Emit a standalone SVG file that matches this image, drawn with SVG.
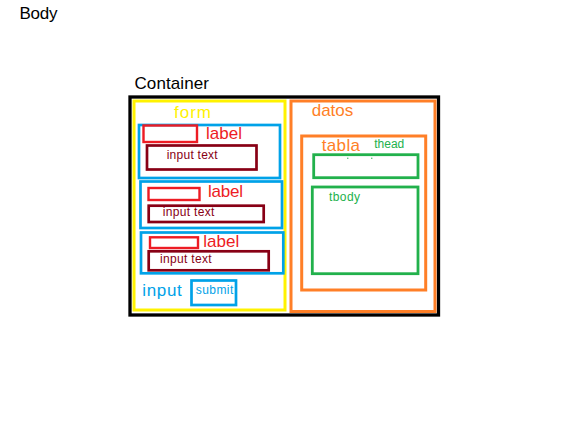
<svg xmlns="http://www.w3.org/2000/svg" width="579" height="426" viewBox="0 0 579 426">
<style>
text { font-family: "Liberation Sans", Arial, sans-serif; }
.big { font-size: 17px; }
.sm { font-size: 12px; }
rect { fill: none; }
.blk { stroke: #000; stroke-width: 3.3; }
.yel { stroke: #FFF200; stroke-width: 3; }
.org { stroke: #FF7F27; stroke-width: 3; }
.blu { stroke: #00A2E8; stroke-width: 2.7; }
.red { stroke: #ED1C24; stroke-width: 2.4; }
.drd { stroke: #880015; stroke-width: 2.7; }
.grn { stroke: #22B14C; stroke-width: 2.8; }
</style>
<rect x="0" y="0" width="579" height="426" fill="#fff" style="fill:#fff"/>
<g id="body">
  <text x="19.5" y="19" class="big" textLength="38" fill="#000">Body</text>
</g>
<g id="container">
  <text x="134.5" y="89" class="big" textLength="74.5" fill="#000">Container</text>
  <rect class="blk" x="130" y="97" width="308.5" height="218"/>
</g>
<g id="form">
  <rect class="yel" x="134" y="101" width="151" height="209"/>
  <text x="174" y="118" class="big" textLength="37" fill="#FFF200">form</text>
</g>
<g id="group1">
  <rect class="blu" x="139" y="125" width="141" height="53"/>
  <rect class="red" x="143.5" y="125.5" width="53.5" height="16.5"/>
  <text x="206" y="139.3" class="big" textLength="36" fill="#ED1C24">label</text>
  <rect class="drd" x="147" y="145.5" width="109.5" height="24"/>
  <text x="166.7" y="159.3" class="sm" textLength="51" fill="#880015">input text</text>
</g>
<g id="group2">
  <rect class="blu" x="140.5" y="181.5" width="141.5" height="46.5"/>
  <rect class="red" x="148.5" y="188" width="51" height="12"/>
  <text x="208" y="196.7" class="big" textLength="35" fill="#ED1C24">label</text>
  <rect class="drd" x="148.7" y="205.7" width="115" height="16.3"/>
  <text x="162.7" y="216" class="sm" textLength="51.6" fill="#880015">input text</text>
</g>
<g id="group3">
  <rect class="blu" x="141" y="232.5" width="142.3" height="40.8"/>
  <rect class="red" x="150" y="237.3" width="48" height="10.7"/>
  <text x="203.3" y="246.7" class="big" textLength="36" fill="#ED1C24">label</text>
  <rect class="drd" x="148.7" y="251.3" width="120" height="19"/>
  <text x="160" y="262.7" class="sm" textLength="51.7" fill="#880015">input text</text>
</g>
<g id="submit">
  <text x="142.3" y="296" class="big" textLength="39.4" fill="#00A2E8">input</text>
  <rect class="blu" x="191.5" y="280.5" width="44.5" height="24.5"/>
  <text x="195.7" y="294.3" class="sm" textLength="37.6" fill="#00A2E8">submit</text>
</g>
<g id="datos">
  <rect class="org" x="291" y="101" width="144" height="210.5"/>
  <text x="311.7" y="116" class="big" textLength="41.6" fill="#FF7F27">datos</text>
</g>
<g id="tabla">
  <rect class="org" x="301.7" y="136" width="124" height="154"/>
  <text x="321.7" y="150.7" class="big" textLength="38.3" fill="#FF7F27">tabla</text>
</g>
<g id="thead">
  <text x="374.3" y="148.3" class="sm" textLength="30" fill="#22B14C">thead</text>
  <rect class="grn" x="313.7" y="154.7" width="104.3" height="23"/>
  <rect x="347.3" y="157.6" width="1" height="1.4" style="fill:#22B14C"/>
  <rect x="371.3" y="157.6" width="1" height="1.4" style="fill:#22B14C"/>
</g>
<g id="tbody">
  <rect class="grn" x="312.3" y="187" width="105.7" height="86.7"/>
  <text x="329" y="201" class="sm" textLength="31" fill="#22B14C">tbody</text>
</g>
<g id="connectors"></g>
</svg>
